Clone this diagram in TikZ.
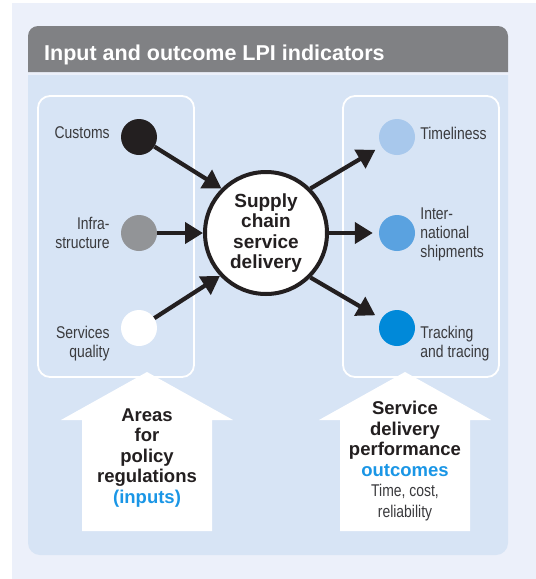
\documentclass[tikz,border=0pt]{standalone}
\usepackage{fontspec}
\setmainfont{Liberation Sans}
\newfontfamily\narrowfont[FakeStretch=0.82]{Liberation Sans}
\usetikzlibrary{positioning,arrows.meta}
\definecolor{outerbg}{HTML}{ECF0FA}
\definecolor{panelblue}{HTML}{D7E4F5}
\definecolor{headgray}{HTML}{808184}
\definecolor{inkdark}{HTML}{231F20}
\definecolor{labelgray}{HTML}{3A3A3D}
\definecolor{infragray}{HTML}{929497}
\definecolor{timelblue}{HTML}{A8C8EC}
\definecolor{intlblue}{HTML}{5AA2E0}
\definecolor{trackblue}{HTML}{0089D9}
\definecolor{lpiblue}{HTML}{1A96E6}
\begin{document}
\begin{tikzpicture}[x=1pt,y=-1pt,
    dot/.style={circle,minimum size=36pt,inner sep=0pt},
    lbl/.style={font=\narrowfont\fontsize{17}{19}\selectfont,text=labelgray,inner sep=0pt},
    bold/.style={font=\bfseries\fontsize{18.5}{20.5}\selectfont,text=inkdark,align=center,inner sep=0pt},
    fat/.style={line width=4.2pt,inkdark,-{Triangle[length=18pt,width=21pt]}}]
    \useasboundingbox (0,0) rectangle (536,579);
    \fill[outerbg] (12,3) rectangle (536,579);
    % header and panel
    \fill[headgray] (28,72) {[rounded corners=10pt] -- (28,26) -- (508,26)} -- (508,72) -- cycle;
    \fill[panelblue] (28,75) {[rounded corners=12pt] -- (28,555) -- (508,555)} -- (508,75) -- cycle;
    \node[anchor=base west,inner sep=0pt,text=white,font=\bfseries\fontsize{21.5}{24}\selectfont] (title) at (44,60.5) {Input and outcome LPI indicators};
    \foreach \x in {38,343} \draw[white,line width=1.8pt,rounded corners=12pt] (\x,96) rectangle (\x+156,377);
    % inputs and outcomes
    \foreach \nm/\y/\col in {cust/137/inkdark,infra/233/infragray,servq/328/white} \node[dot,fill=\col] (\nm) at (139,\y) {};
    \foreach \nm/\y/\col in {timel/137/timelblue,intl/233/intlblue,track/328/trackblue} \node[dot,fill=\col] (\nm) at (397,\y) {};
    \node[lbl,left=11pt of cust,yshift=4pt] (custlbl) {Customs};
    \node[lbl,left=11pt of infra,align=right] (infralbl) {Infra-\\structure};
    \node[lbl,left=11pt of servq,align=right,yshift=-16pt] (servqlbl) {Services\\quality};
    \node[lbl,right=5pt of timel,yshift=4pt] (timellbl) {Timeliness};
    \node[lbl,right=5pt of intl,align=left,yshift=-1pt] (intllbl) {Inter-\\national\\shipments};
    \node[lbl,right=5pt of track,align=left,yshift=-16pt] (tracklbl) {Tracking\\and tracing};
    \node[circle,draw=inkdark,line width=4pt,fill=white,minimum size=122pt,bold,font=\bfseries\fontsize{19}{20.4}\selectfont] (scd) at (266,233) {Supply\\chain\\service\\delivery};
    \draw[fat] (cust) -- (scd.135);
    \draw[fat] (infra) -- (scd);
    \draw[fat] (servq) -- (scd.223);
    \draw[fat,shorten >=7pt] (scd.45) -- (timel);
    \draw[fat,shorten >=6pt] (scd) -- (intl);
    \draw[fat,shorten >=7pt] (scd.-45) -- (track);
    % the two big up arrows
    \foreach \cx in {147,405} \fill[white] (\cx,372) -- (\cx+86,420) -- (\cx+65,420) -- (\cx+65,531) -- (\cx-65,531) -- (\cx-65,420) -- (\cx-86,420) -- cycle;
    \node[bold] (areas) at (147,458) {Areas\\for\\policy\\regulations\\\textcolor{lpiblue}{(inputs)}};
    \node[bold] (sdp) at (405,461) {Service\\delivery\\performance\\\textcolor{lpiblue}{outcomes}\\
      \narrowfont\mdseries\color{labelgray}\fontsize{17}{21}\selectfont Time, cost,\\
      \narrowfont\mdseries\color{labelgray}\fontsize{17}{21}\selectfont reliability};
\end{tikzpicture}
\end{document}
